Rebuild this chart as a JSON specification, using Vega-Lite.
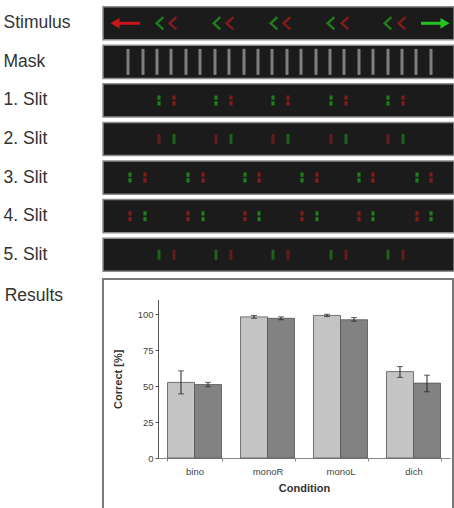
{
  "$schema": "https://vega.github.io/schema/vega-lite/v6.json",
  "padding": {"left": 3, "top": 4, "right": 0, "bottom": 0},
  "background": "white",
  "spacing": 4,
  "resolve": {"scale": {"color": "independent"}},
  "config": {"font": "Liberation Sans", "view": {"stroke": null}},
  "datasets": {
    "strips": [
      {"row": "Stimulus", "start": 0, "end": 351},
      {"row": "Mask", "start": 0, "end": 351},
      {"row": "1. Slit", "start": 0, "end": 351},
      {"row": "2. Slit", "start": 0, "end": 351},
      {"row": "3. Slit", "start": 0, "end": 351},
      {"row": "4. Slit", "start": 0, "end": 351},
      {"row": "5. Slit", "start": 0, "end": 351}
    ],
    "elements": [
      {"row": "Stimulus", "kind": "arrow", "eye": "brightred", "dir": "left", "pos": 12, "end": 37},
      {"row": "Stimulus", "kind": "arrow", "eye": "brightgreen", "dir": "right", "pos": 342, "end": 318},
      {"row": "Stimulus", "kind": "chevron", "eye": "green", "pos": 57},
      {"row": "Stimulus", "kind": "chevron", "eye": "green", "pos": 114},
      {"row": "Stimulus", "kind": "chevron", "eye": "green", "pos": 171},
      {"row": "Stimulus", "kind": "chevron", "eye": "green", "pos": 228},
      {"row": "Stimulus", "kind": "chevron", "eye": "green", "pos": 285},
      {"row": "Stimulus", "kind": "chevron", "eye": "red", "pos": 70},
      {"row": "Stimulus", "kind": "chevron", "eye": "red", "pos": 127},
      {"row": "Stimulus", "kind": "chevron", "eye": "red", "pos": 184},
      {"row": "Stimulus", "kind": "chevron", "eye": "red", "pos": 242},
      {"row": "Stimulus", "kind": "chevron", "eye": "red", "pos": 299},
      {"row": "Mask", "kind": "mask", "eye": "gray", "pos": 25},
      {"row": "Mask", "kind": "mask", "eye": "gray", "pos": 40},
      {"row": "Mask", "kind": "mask", "eye": "gray", "pos": 54},
      {"row": "Mask", "kind": "mask", "eye": "gray", "pos": 68},
      {"row": "Mask", "kind": "mask", "eye": "gray", "pos": 83},
      {"row": "Mask", "kind": "mask", "eye": "gray", "pos": 97},
      {"row": "Mask", "kind": "mask", "eye": "gray", "pos": 112},
      {"row": "Mask", "kind": "mask", "eye": "gray", "pos": 126},
      {"row": "Mask", "kind": "mask", "eye": "gray", "pos": 141},
      {"row": "Mask", "kind": "mask", "eye": "gray", "pos": 155},
      {"row": "Mask", "kind": "mask", "eye": "gray", "pos": 169},
      {"row": "Mask", "kind": "mask", "eye": "gray", "pos": 184},
      {"row": "Mask", "kind": "mask", "eye": "gray", "pos": 198},
      {"row": "Mask", "kind": "mask", "eye": "gray", "pos": 213},
      {"row": "Mask", "kind": "mask", "eye": "gray", "pos": 227},
      {"row": "Mask", "kind": "mask", "eye": "gray", "pos": 241},
      {"row": "Mask", "kind": "mask", "eye": "gray", "pos": 256},
      {"row": "Mask", "kind": "mask", "eye": "gray", "pos": 270},
      {"row": "Mask", "kind": "mask", "eye": "gray", "pos": 285},
      {"row": "Mask", "kind": "mask", "eye": "gray", "pos": 299},
      {"row": "Mask", "kind": "mask", "eye": "gray", "pos": 313},
      {"row": "Mask", "kind": "mask", "eye": "gray", "pos": 328},
      {"row": "1. Slit", "kind": "dots", "eye": "green", "pos": 56},
      {"row": "1. Slit", "kind": "dots", "eye": "green", "pos": 113},
      {"row": "1. Slit", "kind": "dots", "eye": "green", "pos": 170},
      {"row": "1. Slit", "kind": "dots", "eye": "green", "pos": 228},
      {"row": "1. Slit", "kind": "dots", "eye": "green", "pos": 285},
      {"row": "1. Slit", "kind": "dots", "eye": "red", "pos": 71},
      {"row": "1. Slit", "kind": "dots", "eye": "red", "pos": 128},
      {"row": "1. Slit", "kind": "dots", "eye": "red", "pos": 185},
      {"row": "1. Slit", "kind": "dots", "eye": "red", "pos": 243},
      {"row": "1. Slit", "kind": "dots", "eye": "red", "pos": 300},
      {"row": "2. Slit", "kind": "bar", "eye": "red", "pos": 56},
      {"row": "2. Slit", "kind": "bar", "eye": "red", "pos": 113},
      {"row": "2. Slit", "kind": "bar", "eye": "red", "pos": 170},
      {"row": "2. Slit", "kind": "bar", "eye": "red", "pos": 228},
      {"row": "2. Slit", "kind": "bar", "eye": "red", "pos": 285},
      {"row": "2. Slit", "kind": "bar", "eye": "green", "pos": 71},
      {"row": "2. Slit", "kind": "bar", "eye": "green", "pos": 128},
      {"row": "2. Slit", "kind": "bar", "eye": "green", "pos": 185},
      {"row": "2. Slit", "kind": "bar", "eye": "green", "pos": 243},
      {"row": "2. Slit", "kind": "bar", "eye": "green", "pos": 300},
      {"row": "3. Slit", "kind": "dots", "eye": "green", "pos": 27},
      {"row": "3. Slit", "kind": "dots", "eye": "green", "pos": 85},
      {"row": "3. Slit", "kind": "dots", "eye": "green", "pos": 142},
      {"row": "3. Slit", "kind": "dots", "eye": "green", "pos": 199},
      {"row": "3. Slit", "kind": "dots", "eye": "green", "pos": 256},
      {"row": "3. Slit", "kind": "dots", "eye": "green", "pos": 314},
      {"row": "3. Slit", "kind": "dots", "eye": "red", "pos": 42},
      {"row": "3. Slit", "kind": "dots", "eye": "red", "pos": 100},
      {"row": "3. Slit", "kind": "dots", "eye": "red", "pos": 156},
      {"row": "3. Slit", "kind": "dots", "eye": "red", "pos": 214},
      {"row": "3. Slit", "kind": "dots", "eye": "red", "pos": 270},
      {"row": "3. Slit", "kind": "dots", "eye": "red", "pos": 328},
      {"row": "4. Slit", "kind": "dots", "eye": "red", "pos": 27},
      {"row": "4. Slit", "kind": "dots", "eye": "red", "pos": 85},
      {"row": "4. Slit", "kind": "dots", "eye": "red", "pos": 142},
      {"row": "4. Slit", "kind": "dots", "eye": "red", "pos": 199},
      {"row": "4. Slit", "kind": "dots", "eye": "red", "pos": 256},
      {"row": "4. Slit", "kind": "dots", "eye": "red", "pos": 314},
      {"row": "4. Slit", "kind": "dots", "eye": "green", "pos": 42},
      {"row": "4. Slit", "kind": "dots", "eye": "green", "pos": 100},
      {"row": "4. Slit", "kind": "dots", "eye": "green", "pos": 156},
      {"row": "4. Slit", "kind": "dots", "eye": "green", "pos": 214},
      {"row": "4. Slit", "kind": "dots", "eye": "green", "pos": 270},
      {"row": "4. Slit", "kind": "dots", "eye": "green", "pos": 328},
      {"row": "5. Slit", "kind": "bar", "eye": "green", "pos": 56},
      {"row": "5. Slit", "kind": "bar", "eye": "green", "pos": 113},
      {"row": "5. Slit", "kind": "bar", "eye": "green", "pos": 170},
      {"row": "5. Slit", "kind": "bar", "eye": "green", "pos": 228},
      {"row": "5. Slit", "kind": "bar", "eye": "green", "pos": 285},
      {"row": "5. Slit", "kind": "bar", "eye": "red", "pos": 71},
      {"row": "5. Slit", "kind": "bar", "eye": "red", "pos": 128},
      {"row": "5. Slit", "kind": "bar", "eye": "red", "pos": 185},
      {"row": "5. Slit", "kind": "bar", "eye": "red", "pos": 243},
      {"row": "5. Slit", "kind": "bar", "eye": "red", "pos": 300}
    ],
    "results": [
      {"condition": "bino", "group": "A", "mean": 52.5, "lo": 44.5, "hi": 60.5},
      {"condition": "bino", "group": "B", "mean": 51, "lo": 49.5, "hi": 52.5},
      {"condition": "monoR", "group": "A", "mean": 98, "lo": 97, "hi": 99},
      {"condition": "monoR", "group": "B", "mean": 97, "lo": 96, "hi": 98},
      {"condition": "monoL", "group": "A", "mean": 99, "lo": 98.2, "hi": 99.8},
      {"condition": "monoL", "group": "B", "mean": 96, "lo": 95, "hi": 97.5},
      {"condition": "dich", "group": "A", "mean": 60, "lo": 56, "hi": 63.5},
      {"condition": "dich", "group": "B", "mean": 52, "lo": 46, "hi": 57.5}
    ]
  },
  "vconcat": [
    {
      "width": 351,
      "height": 270,
      "encoding": {
        "y": {
          "field": "row",
          "type": "nominal",
          "title": null,
          "scale": {
            "domain": ["Stimulus", "Mask", "1. Slit", "2. Slit", "3. Slit", "4. Slit", "5. Slit"],
            "paddingInner": 0.14,
            "paddingOuter": 0.07
          },
          "axis": {
            "domain": false,
            "ticks": false,
            "labelAlign": "left",
            "labelPadding": 100,
            "labelFontSize": 17.5,
            "labelColor": "#333333",
            "labelFont": "Liberation Sans"
          }
        }
      },
      "layer": [
        {
          "data": {"name": "strips"},
          "mark": {"type": "bar", "fill": "#1b1b1b", "stroke": "#8c8c8c", "strokeWidth": 1.5},
          "encoding": {
            "x": {"field": "start", "type": "quantitative", "scale": {"domain": [0, 351], "nice": false, "zero": false}, "axis": null},
            "x2": {"field": "end"}
          }
        },
        {
          "data": {"name": "elements"},
          "transform": [{"filter": "datum.kind === 'mask'"}],
          "mark": {"type": "tick", "size": 26, "thickness": 3, "color": "#a8a8a8"},
          "encoding": {
            "x": {"field": "pos", "type": "quantitative", "axis": null}
          }
        },
        {
          "data": {"name": "elements"},
          "transform": [{"filter": "datum.kind === 'bar'"}],
          "mark": {"type": "tick", "size": 10, "thickness": 3},
          "encoding": {
            "x": {"field": "pos", "type": "quantitative", "axis": null},
            "color": {"field": "eye", "type": "nominal", "scale": {"domain": ["green", "red", "gray", "brightgreen", "brightred"], "range": ["#1f7d1f", "#821c1c", "#ababab", "#22c322", "#c8161c"]}, "legend": null}
          }
        },
        {
          "data": {"name": "elements"},
          "transform": [{"filter": "datum.kind === 'dots'"}],
          "mark": {"type": "point", "filled": true, "opacity": 1, "size": 100, "shape": "M -0.32 -1 H 0.32 V -0.15 H -0.32 Z M -0.32 0.15 H 0.32 V 1 H -0.32 Z"},
          "encoding": {
            "x": {"field": "pos", "type": "quantitative", "axis": null},
            "color": {"field": "eye", "type": "nominal", "legend": null}
          }
        },
        {
          "data": {"name": "elements"},
          "transform": [{"filter": "datum.kind === 'chevron'"}],
          "mark": {"type": "point", "filled": false, "opacity": 1, "size": 150, "strokeWidth": 2.4, "shape": "M 0.55 -1 L -0.55 0 L 0.55 1"},
          "encoding": {
            "x": {"field": "pos", "type": "quantitative", "axis": null},
            "color": {"field": "eye", "type": "nominal", "legend": null}
          }
        },
        {
          "data": {"name": "elements"},
          "transform": [{"filter": "datum.kind === 'arrow'"}],
          "mark": {"type": "rule", "strokeWidth": 3},
          "encoding": {
            "x": {"field": "pos", "type": "quantitative", "axis": null},
            "x2": {"field": "end"},
            "color": {"field": "eye", "type": "nominal", "legend": null}
          }
        },
        {
          "data": {"name": "elements"},
          "transform": [{"filter": "datum.kind === 'arrow'"}],
          "mark": {"type": "point", "filled": true, "opacity": 1, "size": 110},
          "encoding": {
            "x": {"field": "pos", "type": "quantitative", "axis": null},
            "color": {"field": "eye", "type": "nominal", "legend": null},
            "shape": {"field": "dir", "type": "nominal", "scale": {"domain": ["left", "right"], "range": ["triangle-left", "triangle-right"]}, "legend": null}
          }
        }
      ]
    },
    {
      "width": 350,
      "height": 240,
      "view": {"stroke": "#7a7a7a", "strokeWidth": 2},
      "title": {
        "text": "Results",
        "orient": "left",
        "anchor": "end",
        "frame": "group",
        "angle": 0,
        "align": "left",
        "baseline": "top",
        "offset": 0,
        "dx": -40,
        "dy": 8,
        "fontSize": 17.5,
        "fontWeight": "normal",
        "color": "#333333",
        "font": "Liberation Sans"
      },
      "data": {"name": "results"},
      "encoding": {
        "x": {
          "field": "condition",
          "type": "nominal",
          "sort": ["bino", "monoR", "monoL", "dich"],
          "scale": {"range": [55, 347], "paddingInner": 0.26, "paddingOuter": 0.13},
          "axis": {
            "title": "Condition",
            "labelAngle": 0,
            "offset": -61,
            "tickBand": "extent",
            "tickSize": 3,
            "tickColor": "#888888",
            "domainColor": "#888888",
            "labelFontSize": 9.5,
            "labelColor": "#444444",
            "labelPadding": 5,
            "titleFontSize": 11,
            "titleFontWeight": "bold",
            "titleColor": "#333333",
            "titlePadding": 7
          }
        },
        "xOffset": {"field": "group", "type": "nominal", "scale": {"paddingInner": 0}}
      },
      "layer": [
        {
          "mark": {"type": "bar", "stroke": "#555555", "strokeWidth": 0.8},
          "encoding": {
            "y": {
              "field": "mean",
              "type": "quantitative",
              "title": "Correct [%]",
              "scale": {"domain": [0, 110], "range": [179, 20.6], "nice": false},
              "axis": {
                "values": [0, 25, 50, 75, 100],
                "offset": -55,
                "grid": false,
                "tickSize": 3,
                "tickColor": "#555555",
                "domainColor": "#555555",
                "labelFontSize": 9.5,
                "labelColor": "#444444",
                "titleFontSize": 11,
                "titleFontWeight": "bold",
                "titleColor": "#333333",
                "titlePadding": 14
              }
            },
            "color": {"field": "group", "type": "nominal", "scale": {"domain": ["A", "B"], "range": ["#c4c4c4", "#828282"]}, "legend": null}
          }
        },
        {
          "mark": {"type": "rule", "color": "#222222", "strokeWidth": 1},
          "encoding": {
            "y": {"field": "lo", "type": "quantitative", "title": "Correct [%]"},
            "y2": {"field": "hi"}
          }
        },
        {
          "mark": {"type": "tick", "color": "#222222", "size": 6, "thickness": 1},
          "encoding": {
            "y": {"field": "lo", "type": "quantitative", "title": "Correct [%]"}
          }
        },
        {
          "mark": {"type": "tick", "color": "#222222", "size": 6, "thickness": 1},
          "encoding": {
            "y": {"field": "hi", "type": "quantitative", "title": "Correct [%]"}
          }
        }
      ]
    }
  ]
}
